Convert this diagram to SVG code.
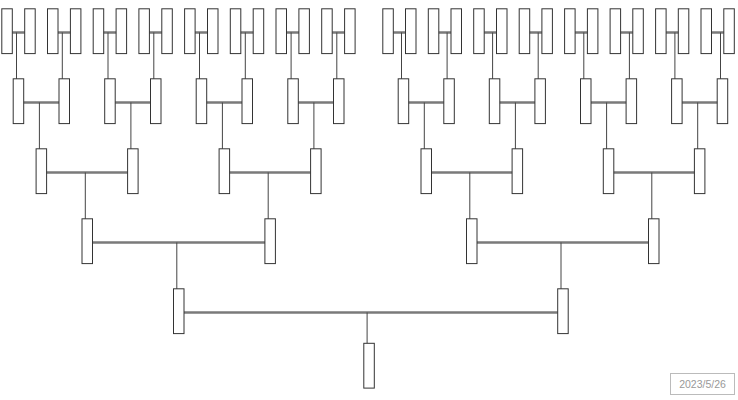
<svg xmlns="http://www.w3.org/2000/svg" width="738" height="400" viewBox="0 0 738 400">
<style>
.n{fill:#fff;stroke:#333;stroke-width:1}
.bar{fill:none;stroke:#7a7a7a;stroke-width:2.6}
.v{fill:none;stroke:#444;stroke-width:1}
.date{fill:#fff;stroke:#bbb;stroke-width:1}
.dt{font-family:"Liberation Sans",Arial,sans-serif;font-size:10.5px;fill:#999;text-anchor:middle}
</style>
<defs>
<rect id="b" width="10.5" height="44.8" class="n"/>
</defs>
<g id="connectors">
<path class="bar" d="M7 32.5H30M52.8 32.5H75.6M98.5 32.5H121.4M144.2 32.5H167.1M189.9 32.5H212.8M235.6 32.5H258.5M281.3 32.5H304.2M327 32.5H349.9M388.1 32.5H410.8M433.6 32.5H456.3M479 32.5H501.8M524.5 32.5H547.2M569.9 32.5H592.7M615.4 32.5H638.1M660.9 32.5H683.6M706.3 32.5H729.1"/>
<path class="v" d="M16.5 32.5V79M62.3 32.5V79M108 32.5V79M153.8 32.5V79M199.5 32.5V79M245.3 32.5V79M291.1 32.5V79M336.8 32.5V79M401.5 32.5V79M447.1 32.5V79M492.6 32.5V79M538.2 32.5V79M583.8 32.5V79M629.4 32.5V79M674.9 32.5V79M720.5 32.5V79"/>
<path class="bar" d="M18.5 102.5H64.3M110 102.5H155.8M201.5 102.5H247.3M293.1 102.5H338.8M403.5 102.5H449.1M494.6 102.5H540.2M585.8 102.5H631.4M676.9 102.5H722.5"/>
<path class="v" d="M39.4 102.5V149M130.9 102.5V149M222.4 102.5V149M313.9 102.5V149M424.3 102.5V149M515.4 102.5V149M606.6 102.5V149M697.7 102.5V149"/>
<path class="bar" d="M41.4 172.5H132.9M224.4 172.5H315.9M426.3 172.5H517.4M608.6 172.5H699.7"/>
<path class="v" d="M85.3 172.5V219M268.2 172.5V219M469.8 172.5V219M651.8 172.5V219"/>
<path class="bar" d="M87.3 242.5H270.2M471.8 242.5H653.8"/>
<path class="v" d="M176.8 242.5V289M561 242.5V289"/>
<path class="bar" d="M178.8 312.5H563"/>
<path class="v" d="M367.1 312.5V343.5"/>
</g>
<g id="level1">
<use id="n1-1" href="#b" x="1.8" y="8.8"/><use id="n1-2" href="#b" x="24.7" y="8.8"/><use id="n1-3" href="#b" x="47.5" y="8.8"/><use id="n1-4" href="#b" x="70.4" y="8.8"/>
<use id="n1-5" href="#b" x="93.2" y="8.8"/><use id="n1-6" href="#b" x="116.1" y="8.8"/><use id="n1-7" href="#b" x="138.9" y="8.8"/><use id="n1-8" href="#b" x="161.8" y="8.8"/>
<use id="n1-9" href="#b" x="184.6" y="8.8"/><use id="n1-10" href="#b" x="207.5" y="8.8"/><use id="n1-11" href="#b" x="230.3" y="8.8"/><use id="n1-12" href="#b" x="253.2" y="8.8"/>
<use id="n1-13" href="#b" x="276" y="8.8"/><use id="n1-14" href="#b" x="298.9" y="8.8"/><use id="n1-15" href="#b" x="321.7" y="8.8"/><use id="n1-16" href="#b" x="344.6" y="8.8"/>
<use id="n1-17" href="#b" x="382.8" y="8.8"/><use id="n1-18" href="#b" x="405.5" y="8.8"/><use id="n1-19" href="#b" x="428.3" y="8.8"/><use id="n1-20" href="#b" x="451" y="8.8"/>
<use id="n1-21" href="#b" x="473.7" y="8.8"/><use id="n1-22" href="#b" x="496.5" y="8.8"/><use id="n1-23" href="#b" x="519.2" y="8.8"/><use id="n1-24" href="#b" x="541.9" y="8.8"/>
<use id="n1-25" href="#b" x="564.6" y="8.8"/><use id="n1-26" href="#b" x="587.4" y="8.8"/><use id="n1-27" href="#b" x="610.1" y="8.8"/><use id="n1-28" href="#b" x="632.8" y="8.8"/>
<use id="n1-29" href="#b" x="655.6" y="8.8"/><use id="n1-30" href="#b" x="678.3" y="8.8"/><use id="n1-31" href="#b" x="701" y="8.8"/><use id="n1-32" href="#b" x="723.8" y="8.8"/>
</g>
<g id="level2">
<use id="n2-1" href="#b" x="13.2" y="78.8"/><use id="n2-2" href="#b" x="59" y="78.8"/><use id="n2-3" href="#b" x="104.7" y="78.8"/><use id="n2-4" href="#b" x="150.5" y="78.8"/>
<use id="n2-5" href="#b" x="196.2" y="78.8"/><use id="n2-6" href="#b" x="242" y="78.8"/><use id="n2-7" href="#b" x="287.8" y="78.8"/><use id="n2-8" href="#b" x="333.5" y="78.8"/>
<use id="n2-9" href="#b" x="398.2" y="78.8"/><use id="n2-10" href="#b" x="443.8" y="78.8"/><use id="n2-11" href="#b" x="489.3" y="78.8"/><use id="n2-12" href="#b" x="534.9" y="78.8"/>
<use id="n2-13" href="#b" x="580.5" y="78.8"/><use id="n2-14" href="#b" x="626.1" y="78.8"/><use id="n2-15" href="#b" x="671.6" y="78.8"/><use id="n2-16" href="#b" x="717.2" y="78.8"/>
</g>
<g id="level3">
<use id="n3-1" href="#b" x="36.1" y="148.8"/><use id="n3-2" href="#b" x="127.6" y="148.8"/><use id="n3-3" href="#b" x="219.1" y="148.8"/><use id="n3-4" href="#b" x="310.6" y="148.8"/>
<use id="n3-5" href="#b" x="421" y="148.8"/><use id="n3-6" href="#b" x="512.1" y="148.8"/><use id="n3-7" href="#b" x="603.3" y="148.8"/><use id="n3-8" href="#b" x="694.4" y="148.8"/>
</g>
<g id="level4">
<use id="n4-1" href="#b" x="82" y="218.8"/><use id="n4-2" href="#b" x="264.9" y="218.8"/><use id="n4-3" href="#b" x="466.5" y="218.8"/><use id="n4-4" href="#b" x="648.5" y="218.8"/>
</g>
<g id="level5">
<use id="n5-1" href="#b" x="173.5" y="288.8"/><use id="n5-2" href="#b" x="557.7" y="288.8"/>
</g>
<g id="root">
<use id="n6-1" href="#b" x="363.8" y="343.3"/>
</g>
<g id="date">
<rect class="date" x="670.5" y="373.5" width="64" height="21"/>
<text class="dt" x="702.5" y="388.3">2023/5/26</text>
</g>
</svg>
